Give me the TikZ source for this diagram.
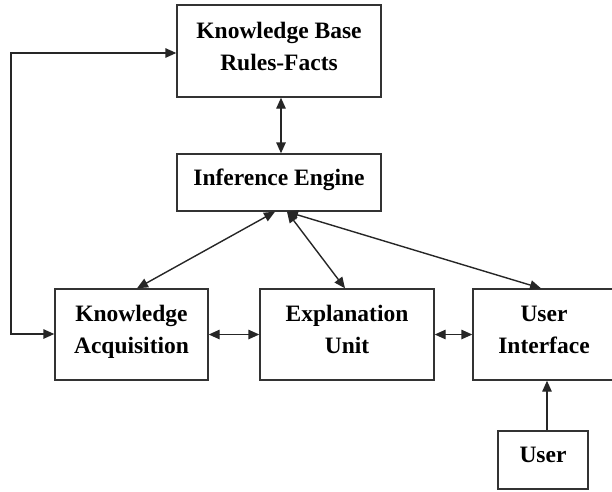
\documentclass[tikz,border=0pt]{standalone}
\usepackage{fontspec}
\setmainfont{Liberation Serif}
\usetikzlibrary{arrows.meta}
\tikzset{
  box/.style={draw=black!80, line width=1.4pt, align=center, text depth=10pt,
    inner sep=0pt, font=\fontsize{23.5}{32}\selectfont\bfseries},
  conn/.style={draw=black!85, line width=1.4pt},
  tip/.style={-{Triangle[length=11pt,width=9.5pt]}},
  dtip/.style={{Triangle[length=11pt,width=9.5pt]}-{Triangle[length=11pt,width=9.5pt]}}
}
\begin{document}
\begin{tikzpicture}[x=1pt,y=-1pt]
\useasboundingbox (0,0) rectangle (612,491);
\node[box, minimum width=204pt, minimum height=92pt] (KB) at (279,51) {Knowledge Base\\Rules-Facts};
\node[box, minimum width=204pt, minimum height=57pt] (IE) at (279,182.5) {Inference Engine};
\node[box, minimum width=153pt, minimum height=91pt] (KA) at (131.5,334.5) {Knowledge\\Acquisition};
\node[box, minimum width=174pt, minimum height=91pt] (EU) at (347,334.5) {Explanation\\Unit};
\node[box, minimum width=142pt, minimum height=91pt] (UI) at (544,334.5) {User\\Interface};
\node[box, minimum width=90pt, minimum height=58pt] (US) at (543,460) {User};
\coordinate (c1) at (11,53);
\coordinate (c2) at (11,334);
\coordinate (kbx) at (281,0);
\coordinate (ux) at (547,0);
% feedback loop
\draw[conn, dtip] (KB.west |- c1) -- (c1) -- (c2) -- (KA.west |- c2);
% KB - IE
\draw[conn, dtip] (KB.south -| kbx) -- (IE.north -| kbx);
% IE to lower boxes
\draw[conn, dtip] ([xshift=-4pt]IE.south) -- ([xshift=5.5pt]KA.north);
\draw[conn, dtip] ([xshift=8pt]IE.south) -- ([xshift=-2pt]EU.north);
\draw[conn, dtip] ([xshift=8pt]IE.south) -- ([xshift=-3pt]UI.north);
% horizontal
\draw[conn, dtip] (KA.east) -- (EU.west);
\draw[conn, dtip] (EU.east) -- (UI.west);
% user
\draw[conn, tip] (US.north -| ux) -- (UI.south -| ux);
\end{tikzpicture}
\end{document}
